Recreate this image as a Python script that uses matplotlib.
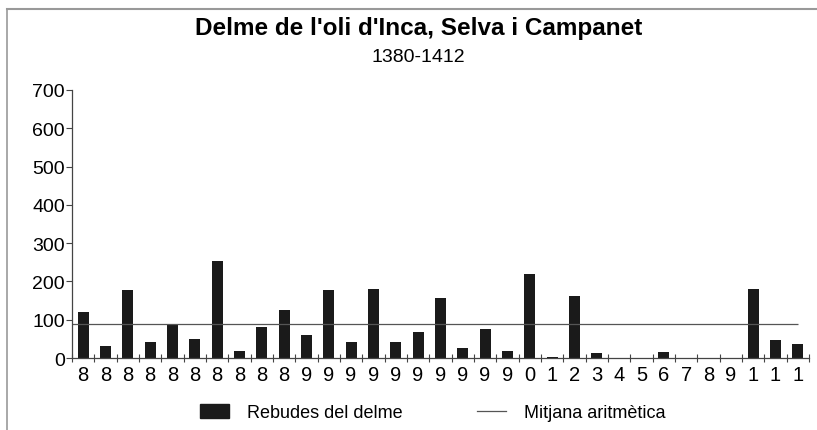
import numpy as np
import matplotlib.pyplot as plt
from matplotlib.patches import Patch
from matplotlib.lines import Line2D

plt.rcParams['font.family'] = ['Liberation Sans', 'DejaVu Sans']

# dades (anys 1380-1412)
years = list(range(1380, 1413))
tick_labels = ['8'] * 10 + ['9'] * 10 + ['0', '1', '2', '3', '4', '5', '6', '7', '8', '9'] + ['1'] * 3
rebudes = [120, 32, 178, 43, 89, 49, 253, 19, 82, 125,
           60, 178, 43, 181, 43, 69, 157, 25, 77, 19,
           220, 3, 163, 12, 0, 0, 16, 0, 0, 0,
           181, 46, 36]
mitjana = 88

fig = plt.figure(figsize=(8.17, 4.31), dpi=100)
ax = fig.add_axes([0.0881, 0.167, 0.902, 0.622])

x = np.arange(len(years))
ax.bar(x, rebudes, width=0.5, color='#1a1a1a')
ax.hlines(mitjana, -0.5, len(years) - 1, color='#555555', lw=0.9)

ax.set_xlim(-0.5, len(years) - 0.5)
ax.set_ylim(0, 700)
ax.set_yticks(range(0, 701, 100))
ax.tick_params(axis='y', labelsize=14, length=4, width=0.8, color='#444444', pad=1)

ax.set_xticks(x)
ax.set_xticklabels(tick_labels, fontsize=14.5)
ax.tick_params(axis='x', which='major', length=0, pad=5)
ax.set_xticks(np.append(x - 0.5, x[-1] + 0.5), minor=True)
ax.tick_params(axis='x', which='minor', direction='inout', length=6, width=0.8, color='#444444')

for s in ['top', 'right']:
    ax.spines[s].set_visible(False)
for s in ['left', 'bottom']:
    ax.spines[s].set_color('#444444')
    ax.spines[s].set_linewidth(0.9)

fig.text(0.513, 0.935, "Delme de l'oli d'Inca, Selva i Campanet", ha='center', va='center',
         fontsize=17.5, fontweight='bold')
fig.text(0.512, 0.866, "1380-1412", ha='center', va='center', fontsize=14)

handles = [Patch(facecolor='#1a1a1a', edgecolor='#1a1a1a'),
           Line2D([0], [0], color='#555555', lw=0.9)]
fig.legend(handles, ['Rebudes del delme', 'Mitjana aritmètica'], loc='center',
           bbox_to_anchor=(0.53, 0.04), ncol=2, frameon=False, fontsize=13,
           handlelength=1.6, handleheight=0.85, columnspacing=4.1, handletextpad=1.0)

# marc
fig.add_artist(Line2D([0.009, 1.0], [0.977, 0.977], color='#999999', lw=1.5))
fig.add_artist(Line2D([0.009, 0.009], [0.0, 0.977], color='#999999', lw=1.2))

fig.savefig('out.png', dpi=100)
